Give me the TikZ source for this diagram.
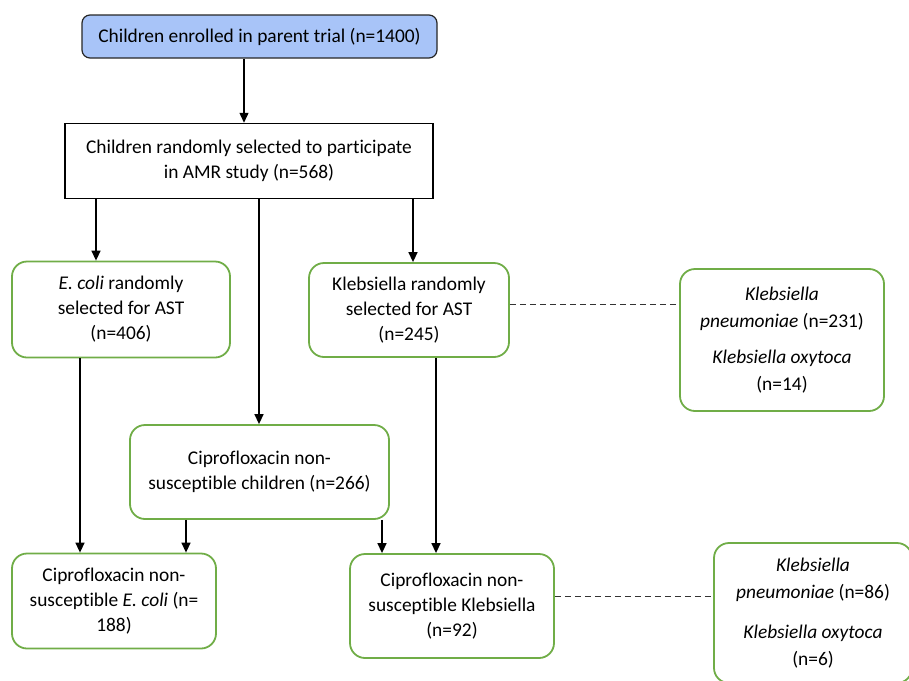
\documentclass[tikz,border=0pt]{standalone}
\usepackage{fontspec}
\setmainfont[Ligatures=NoCommon]{Carlito}
\usetikzlibrary{arrows.meta}
\definecolor{boxgreen}{RGB}{112,173,71}
\definecolor{boxblue}{RGB}{168,196,248}
\begin{document}
\begin{tikzpicture}[x=1pt,y=-1pt,
  every node/.style={font=\fontsize{19.4}{25}\selectfont, align=center, inner sep=0pt},
  sidetext/.style={font=\fontsize{19.4}{27}\selectfont},
  bluebox/.style={draw=black!85, line width=1.2pt, fill=boxblue, rounded corners=8pt},
  plainbox/.style={draw=black, line width=1.5pt, fill=white},
  greenbox/.style={draw=boxgreen, line width=1.8pt, fill=white, rounded corners=15pt},
  arr/.style={draw=black, line width=1.4pt, -{Triangle[length=10pt,width=9pt]}},
  dashline/.style={draw=black!80, line width=1pt, dash pattern=on 6pt off 4pt}]
\useasboundingbox (0,0) rectangle (909,680);
\clip (0,0) rectangle (909,680);
\node[bluebox, minimum width=355pt, minimum height=43pt] (enrol) at (259.5,36.5) {Children enrolled in parent trial (n=1400)};
\node[plainbox, minimum width=368pt, minimum height=75pt] (amr) at (249,161) {Children randomly selected to participate\\in AMR study (n=568)};
\node[greenbox, minimum width=218pt, minimum height=96pt] (ecoli) at (121,309.5) {\textit{E. coli} randomly\\selected for AST\\(n=406)};
\node[greenbox, minimum width=200pt, minimum height=94pt] (kleb) at (409,310) {Klebsiella randomly\\selected for AST\\(n=245)};
\node[greenbox, sidetext, minimum width=204pt, minimum height=142pt] (kspec) at (782,340) {\textit{Klebsiella}\\\textit{pneumoniae} (n=231)\\[9pt]\textit{Klebsiella oxytoca}\\(n=14)};
\node[greenbox, minimum width=259pt, minimum height=94pt] (cipc) at (259.5,472) {Ciprofloxacin non-\\susceptible children (n=266)};
\node[greenbox, minimum width=204pt, minimum height=95pt] (cipe) at (114,601) {Ciprofloxacin non-\\susceptible \textit{E. coli} (n=\\188)};
\node[greenbox, minimum width=204pt, minimum height=104pt] (cipk) at (452,606) {Ciprofloxacin non-\\susceptible Klebsiella\\(n=92)};
\node[greenbox, sidetext, minimum width=198pt, minimum height=140pt] (kspec2) at (813,613) {\textit{Klebsiella}\\\textit{pneumoniae} (n=86)\\[13pt]\textit{Klebsiella oxytoca}\\(n=6)};
\draw[arr] (enrol.south -| 244,0) -- (amr.north -| 244,0);
\draw[arr] (amr.south -| 96,0) -- (ecoli.north -| 96,0);
\draw[arr] (amr.south -| 259,0) -- (cipc.north -| 259,0);
\draw[arr] (amr.south -| 413,0) -- (kleb.north -| 413,0);
\draw[arr] (ecoli.south -| 80,0) -- (cipe.north -| 80,0);
\draw[arr] (cipc.south -| 186,0) -- (cipe.north -| 186,0);
\draw[arr] (cipc.south -| 382,0) -- (cipk.north -| 382,0);
\draw[arr] (kleb.south -| 436,0) -- (cipk.north -| 436,0);
\draw[dashline] (kleb.east |- 0,304) -- (kspec.west |- 0,304);
\draw[dashline] (cipk.east |- 0,596) -- (kspec2.west |- 0,596);
\end{tikzpicture}
\end{document}
